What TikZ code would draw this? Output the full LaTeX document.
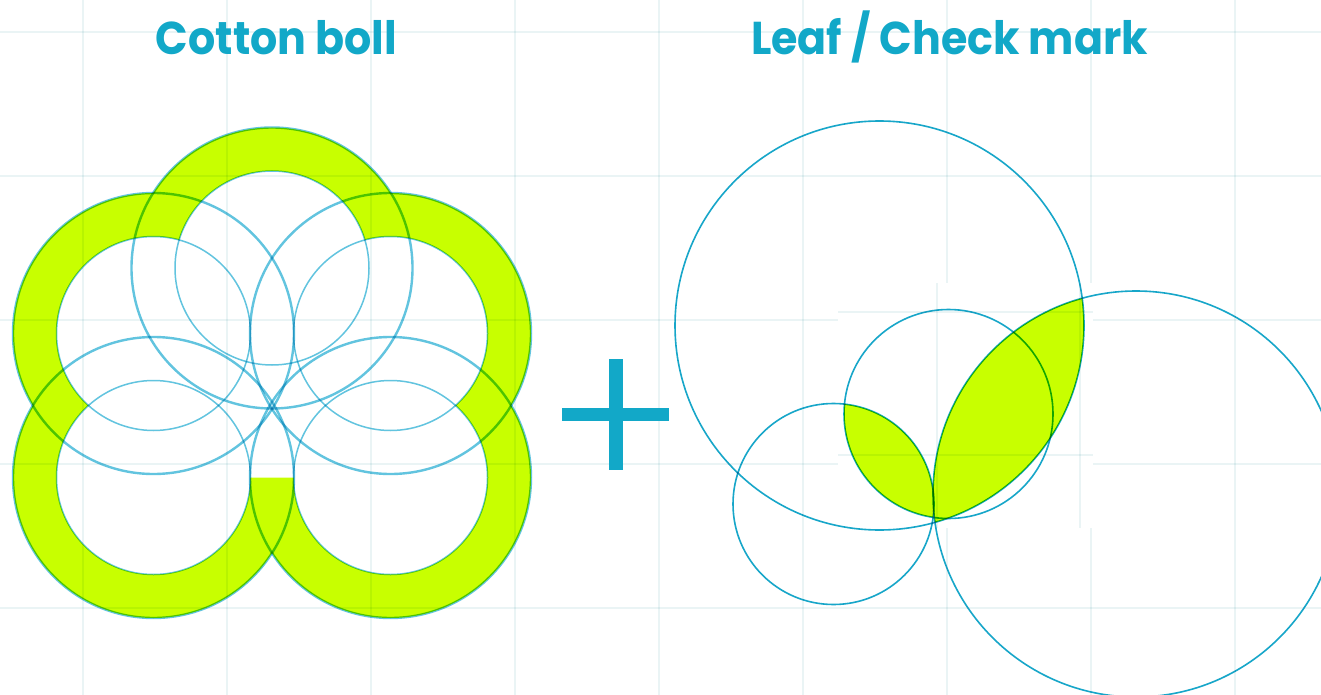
\documentclass[tikz,border=0pt]{standalone}
\usepackage{fontspec}
\newfontfamily\titlefont{Poppins}
\definecolor{gridc}{HTML}{EAF4F5}
\definecolor{limec}{HTML}{C8FF00}
\definecolor{titleblue}{HTML}{12A8C8}
\definecolor{ringblue}{HTML}{62C4DF}
\definecolor{leafblue}{HTML}{17A6C9}
\begin{document}
\begin{tikzpicture}[x=1pt,y=-1pt,
  gridline/.style={gridc, line width=2pt, blend mode=multiply},
  outerring/.style={ringblue, line width=2.4pt, blend mode=multiply},
  innerring/.style={ringblue, line width=1.5pt, blend mode=multiply},
  leafcircle/.style={leafblue, line width=1.6pt, blend mode=multiply},
  titletext/.style={titleblue, font=\titlefont\bfseries\fontsize{46}{50}\selectfont, anchor=base, inner sep=0pt, xscale=0.93}]
\fill[white] (0,0) rectangle (1321,695);
\useasboundingbox (0,0) rectangle (1321,695);
% cotton boll centers
\coordinate (T) at (272,268);
\coordinate (UL) at (153.5,333.5);
\coordinate (UR) at (390.5,333.5);
\coordinate (LL) at (153.5,477.5);
\coordinate (LR) at (390.5,477.5);
% lime body of the boll
\foreach \c in {T,UL,UR,LL,LR}
  \fill[limec] (\c) circle[radius=140.5];
\foreach \c in {T,UL,UR,LL,LR}
  \fill[white] (\c) circle[radius=97];
\fill[white] (T) -- (UR) -- (LR) -- (LL) -- (UL) -- cycle;
% leaf construction
\coordinate (A) at (879.5,325.5);
\coordinate (B) at (1136,494);
\coordinate (C) at (948.5,414);
\coordinate (D) at (833.5,504);
\begin{scope}
  \clip (A) circle[radius=204.5];
  \fill[limec] (B) circle[radius=203];
\end{scope}
\begin{scope}
  \clip (D) circle[radius=100.5];
  \fill[limec] (C) circle[radius=104.5];
\end{scope}
% grid
\foreach \x in {83,227,371,515,659,803,1235}
  \draw[gridline] (\x,0) -- (\x,695);
\foreach \x in {947,1091}{
  \draw[gridline] (\x,0) -- (\x,283);
  \draw[gridline] (\x,528) -- (\x,695);
}
\foreach \y in {32,176,608}
  \draw[gridline] (0,\y) -- (1321,\y);
\foreach \y in {320,464}{
  \draw[gridline] (0,\y) -- (838,\y);
  \draw[gridline] (1093,\y) -- (1321,\y);
}
% shifted grid patch
\draw[gridline] (936.5,283) -- (936.5,528);
\draw[gridline] (1080,283) -- (1080,528);
\draw[gridline] (838,311.5) -- (1093,311.5);
\draw[gridline] (838,454.5) -- (1093,454.5);
% construction circles of the boll
\foreach \c in {T,UL,UR,LL,LR}{
  \draw[outerring] (\c) circle[radius=140.5];
  \draw[innerring] (\c) circle[radius=97];
}
% construction circles of the leaf
\draw[leafcircle] (A) circle[radius=204.5];
\draw[leafcircle] (B) circle[radius=203];
\draw[leafcircle] (C) circle[radius=104.5];
\draw[leafcircle] (D) circle[radius=100.5];
% plus sign
\fill[titleblue] (609.3,359.3) rectangle (622.7,470);
\fill[titleblue] (562,408.3) rectangle (669.3,420.7);
% titles
\node[titletext] (cottontitle) at (276.5,55) {Cotton boll};
\node[titletext] (leaftitle) at (949.5,55) {Leaf / Check mark};
\end{tikzpicture}
\end{document}
